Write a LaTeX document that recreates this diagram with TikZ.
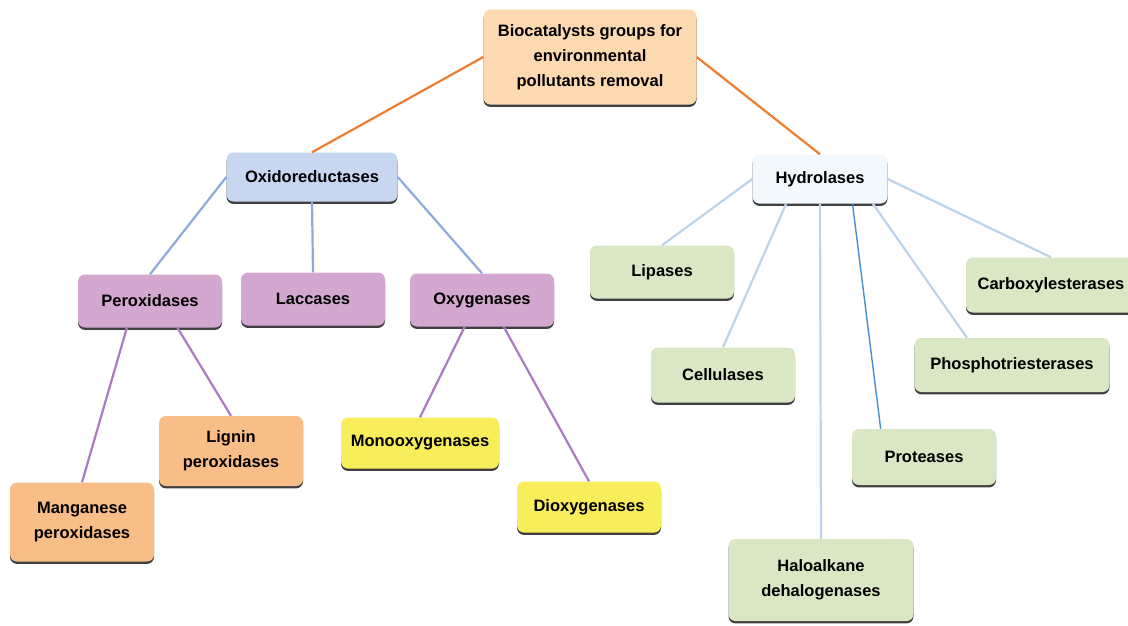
\documentclass[tikz,border=0pt]{standalone}
\usepackage{fontspec}
\setmainfont{Liberation Sans}
\usetikzlibrary{calc}
\usetikzlibrary{shadows}

\definecolor{rootfill}{HTML}{FDD9B2}
\definecolor{oxifill}{HTML}{C6D7EF}
\definecolor{hydrofill}{HTML}{F3F8FD}
\definecolor{purplefill}{HTML}{D4A7D0}
\definecolor{peachfill}{HTML}{F9BE87}
\definecolor{yellowfill}{HTML}{F8EE5C}
\definecolor{greenfill}{HTML}{D9E7C4}
\definecolor{orangeline}{HTML}{EE7D2E}
\definecolor{blueline}{HTML}{8EAADC}
\definecolor{lightline}{HTML}{BDD3EA}
\definecolor{darkline}{HTML}{4A8FD0}
\definecolor{purpleline}{HTML}{AA7BC0}

\begin{document}
\begin{tikzpicture}[
        x=1pt, y=-1pt,
        box/.style={rounded corners=7pt, align=center, inner sep=0pt,
            font=\fontsize{16.5}{25}\selectfont\bfseries,
            drop shadow={shadow xshift=0pt, shadow yshift=-2.4pt, fill=black!75, opacity=1}},
        root box/.style={box, fill=rootfill, minimum width=213pt, minimum height=95pt},
        group box/.style={box, minimum width=#1, minimum height=49pt},
        leaf box/.style={box, minimum width=144pt, minimum height=53pt},
        tall box/.style={box, minimum width=144pt, minimum height=70pt},
        link/.style={line width=2.2pt},
    ]
    \useasboundingbox (0,0) rectangle (1128,625);

    % Root
    \node[root box] (root) at (590,57) {Biocatalysts groups for\\environmental\\pollutants removal};

    % Main groups
    \node[group box=171pt, fill=oxifill] (oxido) at (312,177) {Oxidoreductases};
    \node[group box=135pt, fill=hydrofill] (hydro) at (820,179) {Hydrolases};

    % Oxidoreductases branch
    \node[leaf box, fill=purplefill] (perox) at (150,301) {Peroxidases};
    \node[leaf box, fill=purplefill] (laccase) at (313,299) {Laccases};
    \node[leaf box, fill=purplefill] (oxygen) at (482,300) {Oxygenases};
    \node[tall box, fill=peachfill] (lignin) at (231,451) {Lignin\\peroxidases};
    \node[tall box, minimum height=79pt, fill=peachfill] (mangan) at (82,522) {Manganese\\peroxidases};
    \node[leaf box, minimum width=158pt, minimum height=51pt, fill=yellowfill] (mono) at (420,443) {Monooxygenases};
    \node[leaf box, minimum height=51pt, fill=yellowfill] (dioxy) at (589,507) {Dioxygenases};

    % Hydrolases branch
    \node[leaf box, fill=greenfill] (lipase) at (662,272) {Lipases};
    \node[leaf box, minimum height=55pt, fill=greenfill] (cellu) at (723,375) {Cellulases};
    \node[box, minimum width=185pt, minimum height=82pt, fill=greenfill] (halo) at (821,580) {Haloalkane\\dehalogenases};
    \node[leaf box, minimum height=56pt, fill=greenfill] (protease) at (924,457) {Proteases};
    \node[leaf box, minimum width=195pt, minimum height=54pt, fill=greenfill] (phospho) at (1012,365) {Phosphotriesterases};
    \node[leaf box, minimum width=170pt, minimum height=55pt, fill=greenfill] (carboxy) at (1051,285) {Carboxylesterases};

    % Root links
    \draw[link, orangeline] (root.west) -- (oxido.north);
    \draw[link, orangeline] (root.east) -- (hydro.north);

    % Oxidoreductases links
    \draw[link, blueline] (oxido.west) -- (perox.north);
    \draw[link, blueline] (oxido.south) -- (laccase.north);
    \draw[link, blueline] (oxido.east) -- (oxygen.north);
    \draw[link, purpleline] ($(perox.south west)!0.34!(perox.south east)$) -- (mangan.north);
    \draw[link, purpleline] ($(perox.south west)!0.69!(perox.south east)$) -- (lignin.north);
    \draw[link, purpleline] ($(oxygen.south west)!0.38!(oxygen.south east)$) -- (mono.north);
    \draw[link, purpleline] ($(oxygen.south west)!0.65!(oxygen.south east)$) -- (dioxy.north);

    % Hydrolases links
    \draw[link, lightline] (hydro.west) -- (lipase.north);
    \draw[link, lightline] ($(hydro.south west)!0.25!(hydro.south east)$) -- (cellu.north);
    \draw[link, lightline] (hydro.south) -- (halo.north);
    \draw[line width=1.4pt, darkline] ($(hydro.south west)!0.74!(hydro.south east)$) -- ($(protease.north west)!0.2!(protease.north east)$);
    \draw[link, lightline] ($(hydro.south west)!0.89!(hydro.south east)$) -- ($(phospho.north west)!0.27!(phospho.north east)$);
    \draw[link, lightline] (hydro.east) -- ($(carboxy.north west)!0.5!(carboxy.north east)$);

\end{tikzpicture}
\end{document}
